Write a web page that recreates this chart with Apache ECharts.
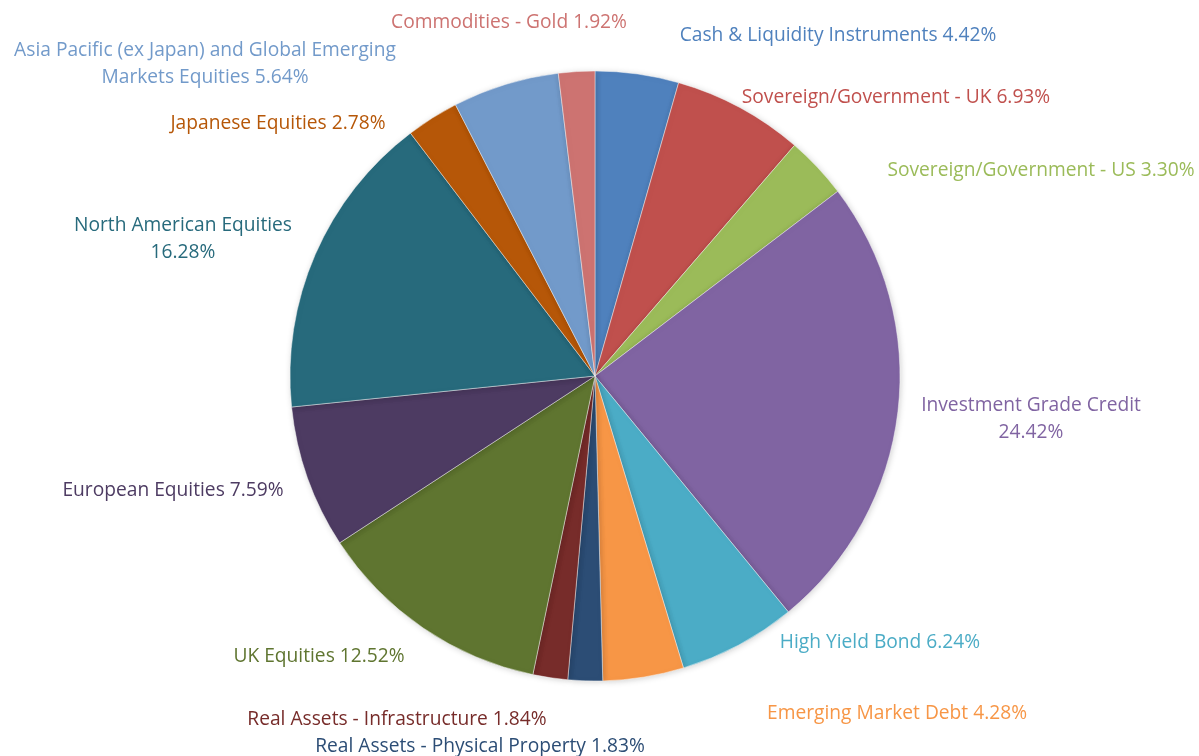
<!DOCTYPE html>
<html>
<head>
<meta charset="utf-8">
<script src="https://cdn.jsdelivr.net/npm/echarts@6/dist/echarts.min.js"></script>
<style>
  html, body { margin: 0; padding: 0; background: #ffffff; }
  #chart { width: 1199px; height: 756px; }
</style>
</head>
<body>
<div id="chart"></div>
<script>
// Asset allocation breakdown (percent of portfolio), clockwise from 12 o'clock
const categories = [
  'Cash & Liquidity Instruments',
  'Sovereign/Government - UK',
  'Sovereign/Government - US',
  'Investment Grade Credit',
  'High Yield Bond',
  'Emerging Market Debt',
  'Real Assets - Physical Property',
  'Real Assets - Infrastructure',
  'UK Equities',
  'European Equities',
  'North American Equities',
  'Japanese Equities',
  'Asia Pacific (ex Japan) and Global Emerging Markets Equities',
  'Commodities - Gold'
];
const weights = [4.42, 6.93, 3.30, 24.42, 6.24, 4.28, 1.83, 1.84, 12.52, 7.59, 16.28, 2.78, 5.64, 1.92];

// Label text as laid out (line breaks where the long names wrap)
const labelTexts = [
  'Cash & Liquidity Instruments 4.42%',
  'Sovereign/Government - UK 6.93%',
  'Sovereign/Government - US 3.30%',
  'Investment Grade Credit\n24.42%',
  'High Yield Bond 6.24%',
  'Emerging Market Debt 4.28%',
  'Real Assets - Physical Property 1.83%',
  'Real Assets - Infrastructure 1.84%',
  'UK Equities 12.52%',
  'European Equities 7.59%',
  'North American Equities\n16.28%',
  'Japanese Equities 2.78%',
  'Asia Pacific (ex Japan) and Global Emerging\nMarkets Equities 5.64%',
  'Commodities - Gold 1.92%'
];

const palette = [
  '#4F81BD', '#C0504D', '#9BBB59', '#8064A2', '#4BACC6', '#F79646',
  '#2C4D75', '#772C2A', '#5F7530', '#4D3B62', '#276A7C', '#B65708',
  '#729ACA', '#CD7371'
];

// Label centres (px) for the data labels, placed around the pie
const labelSpots = [
  [838, 36], [896, 98], [1041, 171], [1031, 419], [880, 643], [897, 714],
  [480, 747], [397, 720], [319, 657], [173, 491], [183, 239], [278, 124],
  [205, 64], [509, 23]
];

const chart = echarts.init(document.getElementById('chart'), null, { renderer: 'canvas' });

chart.setOption({
  animation: false,
  color: palette,
  series: [{
    type: 'pie',
    center: [595, 376],
    radius: [0, 305],
    startAngle: 90,
    clockwise: true,
    avoidLabelOverlap: false,
    itemStyle: {
      borderColor: 'rgba(255,255,255,0.55)',
      borderWidth: 0.8,
      shadowBlur: 6,
      shadowColor: 'rgba(0,0,0,0.18)',
      shadowOffsetX: 1,
      shadowOffsetY: 1
    },
    label: {
      show: true,
      position: 'outside',
      fontFamily: '"Open Sans", "Noto Sans", sans-serif',
      fontSize: 19.2,
      lineHeight: 27,
      align: 'center',
      formatter: p => labelTexts[p.dataIndex]
    },
    labelLine: { show: false },
    labelLayout: p => ({
      x: labelSpots[p.dataIndex][0],
      y: labelSpots[p.dataIndex][1],
      align: 'center',
      verticalAlign: 'middle'
    }),
    data: categories.map((name, i) => ({
      name: name,
      value: weights[i],
      label: { color: palette[i] }
    }))
  }]
});
</script>
</body>
</html>
